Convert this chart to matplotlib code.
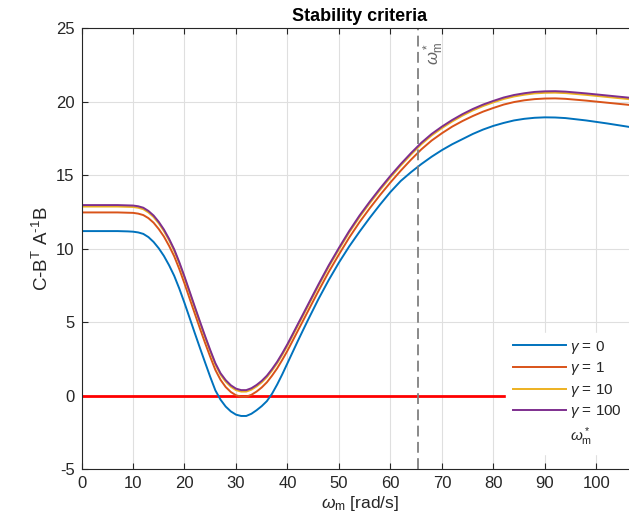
import matplotlib
matplotlib.use('Agg')
import matplotlib.pyplot as plt
from matplotlib.lines import Line2D

plt.rcParams['font.family'] = ['Liberation Sans', 'DejaVu Sans']
plt.rcParams['mathtext.fontset'] = 'custom'
plt.rcParams['mathtext.rm'] = 'Liberation Sans'
plt.rcParams['mathtext.it'] = 'Liberation Sans:italic'
plt.rcParams['mathtext.bf'] = 'Liberation Sans:bold'
plt.rcParams['axes.unicode_minus'] = False

# omega_m [rad/s]: 1 rad/s steps up to 44, then 2 rad/s steps
omega = [0, 1, 2, 3, 4, 5, 6, 7, 8, 9,
         10, 11, 12, 13, 14, 15, 16, 17, 18, 19,
         20, 21, 22, 23, 24, 25, 26, 27, 28, 29,
         30, 31, 32, 33, 34, 35, 36, 37, 38, 39,
         40, 41, 42, 43, 44,
         46, 48, 50, 52, 54, 56, 58, 60, 62, 64, 66, 68, 70, 72, 74, 76, 78,
         80, 82, 84, 86, 88, 90, 92, 94, 96, 98, 100, 102, 104, 106, 108, 110]

gamma_0 = [11.19, 11.19, 11.19, 11.19, 11.19, 11.19, 11.19, 11.19, 11.18, 11.17,
           11.15, 11.1, 11.0, 10.78, 10.45, 10.02, 9.5, 8.87, 8.15, 7.27,
           6.3, 5.28, 4.25, 3.24, 2.25, 1.27, 0.35, -0.28, -0.75, -1.08,
           -1.3, -1.39, -1.39, -1.24, -1.0, -0.72, -0.38, 0.12, 0.75, 1.45,
           2.2, 2.95, 3.7, 4.43, 5.15,
           6.55, 7.85, 9.05, 10.15, 11.15, 12.1, 13.0, 13.85, 14.6, 15.2, 15.75,
           16.25, 16.7, 17.1, 17.45, 17.8, 18.1, 18.35, 18.55, 18.72, 18.83, 18.9,
           18.93, 18.92, 18.88, 18.8, 18.72, 18.62, 18.52, 18.41, 18.3, 18.18, 18.06]

gamma_1 = [12.46, 12.46, 12.46, 12.46, 12.46, 12.46, 12.46, 12.46, 12.45, 12.44,
           12.43, 12.38, 12.28, 12.07, 11.76, 11.33, 10.82, 10.19, 9.48, 8.6,
           7.63, 6.6, 5.58, 4.57, 3.58, 2.64, 1.74, 1.07, 0.58, 0.24,
           0.02, -0.08, -0.08, 0.05, 0.27, 0.55, 0.9, 1.35, 1.85, 2.43,
           3.05, 3.72, 4.4, 5.07, 5.75,
           7.1, 8.4, 9.6, 10.75, 11.8, 12.75, 13.65, 14.5, 15.3, 16.05, 16.75,
           17.35, 17.85, 18.3, 18.68, 19.02, 19.32, 19.57, 19.8, 19.97, 20.09, 20.17,
           20.21, 20.22, 20.19, 20.13, 20.07, 20.0, 19.93, 19.86, 19.79, 19.71, 19.63]

gamma_10 = [12.86, 12.86, 12.86, 12.86, 12.86, 12.86, 12.86, 12.86, 12.85, 12.84,
            12.83, 12.78, 12.68, 12.46, 12.15, 11.72, 11.2, 10.57, 9.85, 8.97,
            8.0, 6.98, 5.95, 4.94, 3.95, 3.0, 2.1, 1.42, 0.95, 0.6,
            0.37, 0.27, 0.27, 0.4, 0.62, 0.9, 1.25, 1.7, 2.2, 2.78,
            3.4, 4.07, 4.75, 5.42, 6.1,
            7.45, 8.75, 9.95, 11.1, 12.15, 13.1, 14.0, 14.85, 15.65, 16.4, 17.1,
            17.7, 18.2, 18.65, 19.05, 19.4, 19.7, 19.95, 20.18, 20.35, 20.47, 20.56,
            20.6, 20.61, 20.58, 20.52, 20.46, 20.39, 20.32, 20.25, 20.18, 20.1, 20.02]

gamma_100 = [12.96, 12.96, 12.96, 12.96, 12.96, 12.96, 12.96, 12.96, 12.95, 12.94,
             12.93, 12.88, 12.78, 12.56, 12.25, 11.82, 11.3, 10.67, 9.95, 9.07,
             8.1, 7.08, 6.05, 5.04, 4.05, 3.1, 2.2, 1.52, 1.05, 0.7,
             0.47, 0.37, 0.37, 0.5, 0.72, 1.0, 1.35, 1.8, 2.3, 2.88,
             3.5, 4.17, 4.85, 5.52, 6.2,
             7.55, 8.85, 10.05, 11.2, 12.25, 13.2, 14.1, 14.95, 15.75, 16.5, 17.2,
             17.8, 18.3, 18.75, 19.15, 19.5, 19.8, 20.05, 20.28, 20.45, 20.57, 20.66,
             20.7, 20.71, 20.68, 20.62, 20.56, 20.49, 20.42, 20.35, 20.28, 20.2, 20.12]

labels = [r'$\gamma$ = 0', r'$\gamma$ = 1', r'$\gamma$ = 10', r'$\gamma$ = 100']
colors = ['#0072bd', '#d95319', '#edb120', '#7e2f8e']
omega_star = 65.3
threshold = 0

fig = plt.figure(figsize=(6.29, 5.28), dpi=100)
ax = fig.add_axes([0.1296, 0.1117, 0.884, 0.835])

for ys, lab, c in zip([gamma_0, gamma_1, gamma_10, gamma_100], labels, colors):
    ax.plot(omega, ys, color=c, lw=1.4, label=lab)

ax.axhline(threshold, color='red', lw=2, zorder=1.5)
ax.axvline(omega_star, color='#808080', lw=1.3, ls=(0, (6, 3)))
ax.text(omega_star + 0.8, 22.5, r'$\omega^*_{\rm m}$', rotation=90,
        ha='left', va='bottom', fontsize=12, color='#666666')

ax.set_xlim(0, 108)
ax.set_ylim(-5, 25)
ax.set_xticks(range(0, 101, 10))
ax.set_yticks(range(-5, 26, 5))
ax.grid(True, color='#dfdfdf', lw=0.8)
ax.set_axisbelow(True)
ax.tick_params(direction='in', length=4, top=True, right=True,
               labelsize=12, colors='#262626', pad=5)
for s in ax.spines.values():
    s.set_color('#262626')
    s.set_linewidth(0.8)

ax.set_title('Stability criteria', fontsize=13, fontweight='bold', pad=5)
ax.set_xlabel(r'$\omega_{\rm m}$ [rad/s]', fontsize=12.5, color='#262626', labelpad=2)
ax.set_ylabel('C-B$^{\\rm T}$ A$^{\\rm \N{HYPHEN}1}$B', fontsize=13.5,
              color='#262626', labelpad=3)

handles, labs = ax.get_legend_handles_labels()
handles.append(Line2D([], [], linestyle='none'))
labs.append(r'$\omega^*_{\rm m}$')
leg = ax.legend(handles, labs, loc='upper left', bbox_to_anchor=(0.793, 0.3845),
                bbox_transform=fig.transFigure, fontsize=11, frameon=True,
                fancybox=False, edgecolor='white', facecolor='white', framealpha=1,
                handlelength=3.5, handletextpad=0.25, labelspacing=0.3,
                borderpad=0.4)
for t in leg.get_texts():
    t.set_color('#262626')

fig.savefig('out.png', dpi=100, facecolor='white')
